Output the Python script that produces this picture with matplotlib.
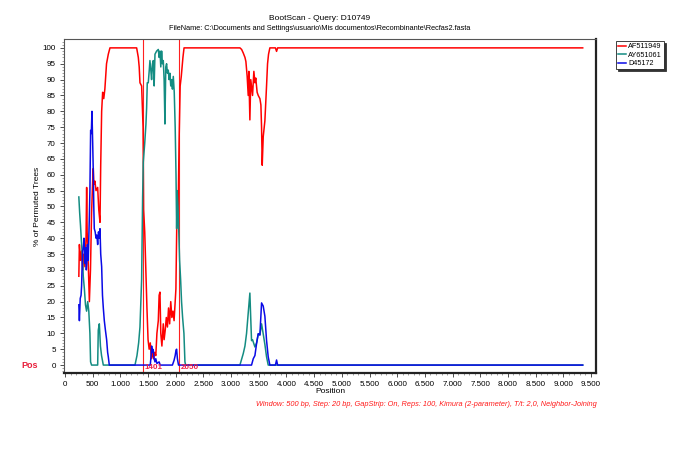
import matplotlib
matplotlib.use("Agg")
import matplotlib.pyplot as plt
from matplotlib.ticker import MultipleLocator, FuncFormatter

plt.rcParams['font.family'] = ['Liberation Sans', 'DejaVu Sans']

# ---------------- data ----------------
red_x = [250, 260, 280, 300, 320, 340, 360, 380, 391, 400, 420, 440, 460, 480, 500, 511, 520, 540, 560, 590,
         610, 632, 645, 662, 680, 700, 720, 750, 782, 812, 1294, 1324, 1340, 1354, 1384, 1400, 1410, 1420, 1440,
         1460, 1480, 1500, 1520, 1540, 1560, 1580, 1600, 1620, 1640, 1660, 1685, 1700, 1715, 1730, 1750, 1775,
         1790, 1810, 1830, 1850, 1870, 1890, 1910, 1930, 1950, 1970, 1990, 2003, 2020, 2040, 2060, 2080, 2100,
         2130, 2150, 3160, 3190, 3219, 3250, 3267, 3290, 3309, 3320, 3339, 3355, 3387, 3411, 3430, 3445, 3470,
         3490, 3520, 3538, 3550, 3562, 3580, 3610, 3640, 3658, 3676, 3700, 3800, 3821, 3840, 9350]
red_y = [28, 38, 33, 36, 30, 35, 31, 40, 56, 42, 32, 20, 30, 48, 58, 62, 57, 58, 55, 56,
         49, 45, 63, 80, 86, 84, 87, 95, 98, 100, 100, 97, 94, 89, 88, 80, 75, 49, 42,
         30, 18, 8, 5, 7, 2, 4, 2, 4, 3, 10, 14, 22, 23, 10, 6, 13,
         8, 11, 15, 12, 18, 13, 20, 15, 17, 14, 20, 24, 46, 44, 70, 88, 91,
         97, 100, 100, 99.5, 98.4, 97, 95.7, 91, 85, 92.6, 77.3, 90, 85, 92.6, 89, 90.5, 86,
         85, 84, 82, 75, 63, 72, 77, 88, 95, 98, 100, 100, 98.9, 100, 100]

teal_x = [250, 265, 280, 300, 315, 330, 350, 370, 390, 410, 430, 450, 462, 480, 590, 601, 620, 640, 660, 692,
          1264, 1300, 1330, 1354, 1384, 1402, 1414, 1440, 1462, 1474, 1486, 1504, 1522, 1534, 1550, 1564, 1580,
          1595, 1610, 1625, 1655, 1685, 1700, 1715, 1730, 1745, 1760, 1775, 1790, 1805, 1820, 1835, 1850, 1865,
          1880, 1895, 1910, 1925, 1940, 1956, 1973, 1990, 2005, 2016, 2025, 2040, 2055, 2070, 2088, 2105, 2124,
          2148, 2166, 2180, 3159, 3219, 3250, 3279, 3309, 3339, 3350, 3369, 3387, 3430, 3460, 3490, 3520, 3550,
          3580, 3610, 3640, 3670, 9350]
teal_y = [53, 48, 44, 38, 34, 28, 24, 19, 17, 20, 17, 10, 1, 0, 0, 11, 13, 6, 3, 0,
          0, 3, 7, 12, 27, 53, 64, 70, 76, 81, 89, 89, 93, 96, 93, 90, 95,
          96, 88, 98, 99, 99.5, 97, 99, 94, 99, 95, 96, 90, 76, 94, 95, 92, 93,
          90, 92, 88, 90, 87, 91, 86, 75, 60, 43, 55, 50, 42, 33, 27, 20, 15,
          10, 1, 0, 0, 3.6, 6, 10, 16.4, 22.7, 17, 7.7, 8, 5.7, 7, 9.8, 9.5, 13,
          9.8, 6.5, 2.6, 0, 0]

blue_x = [250, 260, 275, 290, 300, 310, 320, 335, 343, 355, 365, 375, 385, 395, 405, 420, 430, 440, 450, 463,
          475, 487, 500, 511, 520, 529, 545, 560, 575, 590, 605, 620, 632, 645, 662, 677, 692, 710, 730, 752,
          770, 782, 800, 1540, 1555, 1565, 1575, 1585, 1595, 1610, 1625, 1640, 1660, 1700, 1720, 1940, 1970,
          1990, 2005, 2016, 2030, 2050, 3369, 3400, 3430, 3460, 3490, 3520, 3550, 3580, 3610, 3640, 3670, 3700,
          3800, 3821, 3840, 9350]
blue_y = [19, 14, 21, 22, 25, 32, 36, 38, 40, 35, 32, 37, 30, 32, 38, 33, 40, 47, 55, 74,
          73, 80, 70, 61, 50, 43, 42, 40, 41, 38, 42, 40, 43, 35, 31, 22, 18, 14, 11, 8,
          4, 2.6, 0, 0, 3, 6, 4, 5, 4.6, 2, 1, 2, 0.5, 1, 0, 0, 1.5,
          3, 4.7, 5, 2, 0, 0, 2, 3, 6.8, 9.9, 9.5, 19.6, 18.6, 15.4, 7.8, 2.6, 0,
          0, 1.6, 0, 0]

series_names = ["AF511949", "AY651061", "D45172"]
breakpoints = [1401, 2050]
x_ticks = list(range(0, 9501, 500))
y_ticks = list(range(0, 101, 5))

# ---------------- figure ----------------
W, H = 685, 453
fig = plt.figure(figsize=(W / 100, H / 100), dpi=100)
ax = fig.add_axes([64 / W, 1 - 373 / H, (596 - 64) / W, (373 - 39) / H])

c_red = '#ff0000'
c_teal = '#148c82'
c_blue = '#0a0ae6'

ax.plot(red_x, red_y, color=c_red, lw=1.1, label=series_names[0], zorder=3)
ax.plot(teal_x, teal_y, color=c_teal, lw=1.1, label=series_names[1], zorder=4)
ax.plot(blue_x, blue_y, color=c_blue, lw=1.1, label=series_names[2], zorder=5)

for bp in breakpoints:
    ax.axvline(bp, color='#ff2020', lw=0.8, zorder=2)
    ax.text(bp + 40, -0.8, str(bp), color='#f0204a', fontsize=5.8, fontweight='bold',
            ha='left', va='center', zorder=6)

ax.set_xlim(-18, 9590)
ax.set_ylim(-2.5, 102.8)

ax.set_xticks(x_ticks)
ax.xaxis.set_major_formatter(FuncFormatter(lambda v, p: f"{int(v):,}".replace(",", ".")))
ax.xaxis.set_minor_locator(MultipleLocator(100))
ax.set_yticks(y_ticks)
ax.yaxis.set_minor_locator(MultipleLocator(1))
ax.tick_params(axis='both', which='major', labelsize=5.8, length=3, width=0.6, color='#333333', pad=3)
ax.tick_params(axis='both', which='minor', length=1.5, width=0.4, color='#555555')

for s in ['left', 'top']:
    ax.spines[s].set_linewidth(0.8)
    ax.spines[s].set_color('#555555')
for s in ['bottom', 'right']:
    ax.spines[s].set_linewidth(1.6)
    ax.spines[s].set_color('#222222')

ax.set_xlabel("Position", fontsize=6, labelpad=0)
ax.set_ylabel("% of Permuted Trees", fontsize=6, labelpad=1)

fig.text(320 / W, 1 - 18 / H, "BootScan - Query: D10749", ha='center', va='center', fontsize=6)
fig.text(320 / W, 1 - 29 / H,
         "FileName: C:\\Documents and Settings\\usuario\\Mis documentos\\Recombinante\\Recfas2.fasta",
         ha='center', va='center', fontsize=5.3)

fig.text(30 / W, 1 - 365 / H, "Pos", color='#e8203c', fontsize=6.5, fontweight='bold',
         ha='center', va='center')

fig.text(597 / W, 1 - 405 / H,
         "Window: 500 bp, Step: 20 bp, GapStrip: On, Reps: 100, Kimura (2-parameter), T/t: 2,0, Neighbor-Joining",
         color='#ff1a1a', fontsize=5.3, style='italic', ha='right', va='center')

leg = fig.legend(loc='upper left', bbox_to_anchor=(616 / W, 1 - 41 / H), fontsize=5.2,
                 handlelength=1.1, handletextpad=0.3, borderpad=0.3, labelspacing=0.2,
                 frameon=True, fancybox=False, borderaxespad=0,
                 shadow={'color': '#333333', 'alpha': 1.0, 'ox': 1.5, 'oy': -1.5})
leg.get_frame().set_edgecolor('#222222')
leg.get_frame().set_linewidth(0.6)

fig.savefig("out.png", dpi=100)
